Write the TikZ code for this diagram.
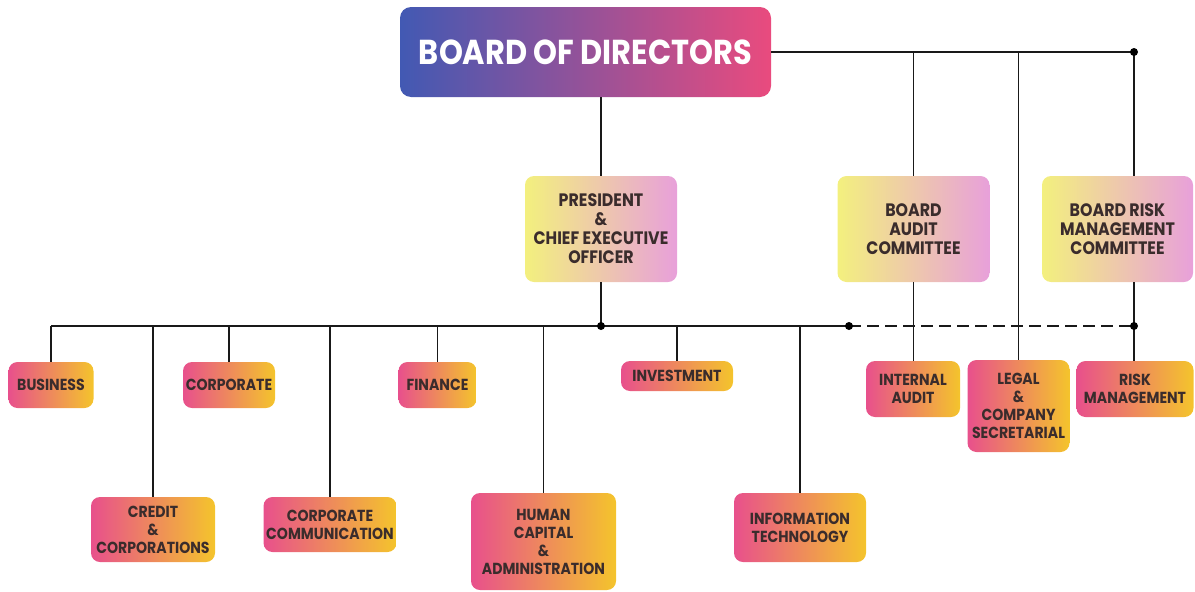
\documentclass[tikz,border=0pt]{standalone}
\usepackage{fontspec}
\setmainfont{Poppins}[FakeStretch=0.88]
\definecolor{ink}{HTML}{3A2C2C}
\definecolor{brdL}{HTML}{4259B3}
\definecolor{brdR}{HTML}{E94B7E}
\definecolor{upL}{HTML}{F3F07E}
\definecolor{upR}{HTML}{E8A0DA}
\definecolor{loL}{HTML}{E8508C}
\definecolor{loR}{HTML}{F4C42C}
\tikzset{
  box/.style={rounded corners=9pt, align=center, inner sep=0pt, text=ink},
  boardbox/.style={box, rounded corners=11pt, left color=brdL, right color=brdR,
    text=white, font=\bfseries\fontsize{34.6}{37}\selectfont},
  upperbox/.style={box, left color=upL, right color=upR,
    font=\bfseries\fontsize{18}{19}\selectfont},
  lowerbox/.style={box, left color=loL, right color=loR,
    font=\bfseries\fontsize{16}{18}\selectfont},
  wire/.style={line width=1.7pt, draw=black!90},
  dashwire/.style={wire, dash pattern=on 12pt off 6pt},
}
\begin{document}
\begin{tikzpicture}[x=1pt, y=-1pt]
\useasboundingbox (0,0) rectangle (1195,592);

% top level
\node[boardbox, minimum width=371pt, minimum height=90pt] (board) at (585.5,52) {BOARD OF DIRECTORS};

% second level
\node[upperbox, minimum width=152pt, minimum height=106pt] (ceo) at (601,229)
  {PRESIDENT\\\&\\CHIEF EXECUTIVE\\OFFICER};
\node[upperbox, minimum width=152pt, minimum height=106pt] (bac) at (913.5,229)
  {BOARD\\AUDIT\\COMMITTEE};
\node[upperbox, minimum width=151pt, minimum height=106pt] (brmc) at (1117.5,229)
  {BOARD RISK\\MANAGEMENT\\COMMITTEE};

% departments
\node[lowerbox, minimum width=85pt, minimum height=46pt] (business) at (51,385) {BUSINESS};
\node[lowerbox, minimum width=92pt, minimum height=46pt] (corporate) at (229,385) {CORPORATE};
\node[lowerbox, minimum width=78pt, minimum height=46pt] (finance) at (437.5,385) {FINANCE};
\node[lowerbox, minimum width=112pt, minimum height=30pt] (investment) at (677,376) {INVESTMENT};
\node[lowerbox, minimum width=124pt, minimum height=65pt] (credit) at (153,529.5) {CREDIT\\\&\\CORPORATIONS};
\node[lowerbox, minimum width=133pt, minimum height=55pt] (corpcomm) at (330,524.5) {CORPORATE\\COMMUNICATION};
\node[lowerbox, minimum width=145pt, minimum height=97pt] (human) at (543.5,541.5) {HUMAN\\CAPITAL\\\&\\ADMINISTRATION};
\node[lowerbox, minimum width=132pt, minimum height=69pt] (it) at (800,527.5) {INFORMATION\\TECHNOLOGY};
\node[lowerbox, minimum width=94pt, minimum height=56pt] (ia) at (913,389) {INTERNAL\\AUDIT};
\node[lowerbox, minimum width=102pt, minimum height=92pt] (legal) at (1018.5,406) {LEGAL\\\&\\COMPANY\\SECRETARIAL};
\node[lowerbox, minimum width=117pt, minimum height=56pt] (rm) at (1135,389) {RISK\\MANAGEMENT};

% junction points
\coordinate (topR) at (1134,52);
\coordinate (bus)  at (601,326);
\coordinate (busE) at (849,326);
\coordinate (busR) at (1134,326);

% board connections
\draw[wire] (board.east) -- (topR);
\draw[wire] (board.south -| ceo.north) -- (ceo.north);
\draw[wire] (topR -| bac.north) -- (bac.north);
\draw[wire] (bac.south) -- (bac.south |- ia.north);
\draw[wire] (topR -| legal.north) -- (legal.north);
\draw[wire] (topR) -- (topR |- brmc.north);
\draw[wire] (topR |- brmc.south) -- (topR |- rm.north);

% executive bus
\draw[wire] (ceo.south) -- (bus);
\draw[wire] (business.north |- bus) -- (busE);
\draw[dashwire] (busE) -- (busR);
\foreach \n in {business,credit,corporate,corpcomm,finance,human,investment,it}
  \draw[wire] (\n.north |- bus) -- (\n.north);

% junction dots
\foreach \p in {topR,bus,busE,busR}
  \fill (\p) circle (4pt);
\end{tikzpicture}
\end{document}
